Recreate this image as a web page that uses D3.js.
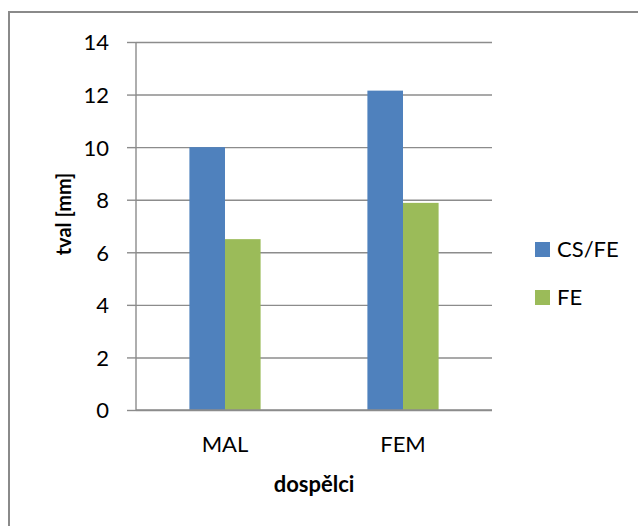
<!DOCTYPE html>
<html>
<head>
<meta charset="utf-8">
<script src="https://cdn.jsdelivr.net/npm/d3@7"></script>
<style>
  html, body { margin: 0; padding: 0; background: #fff; }
  svg { display: block; }
  text { font-family: Lato, "Open Sans", sans-serif; fill: #000; }
</style>
</head>
<body>
<svg id="chart" width="638" height="526"></svg>
<script>
const categories = ["MAL", "FEM"];
const seriesNames = ["CS/FE", "FE"];
const csfeValues = [10.0, 12.15];
const feValues = [6.5, 7.88];
const yTicks = [0, 2, 4, 6, 8, 10, 12, 14];
const colors = ["#4F81BD", "#9BBB59"];
const xTitle = "dospělci";
const yTitle = "tval [mm]";

(function () {
const seriesValues = [csfeValues, feValues];
const data = categories.map((c, i) => ({
  cat: c,
  vals: seriesNames.map((s, j) => ({ key: s, value: seriesValues[j][i] }))
}));

const svg = d3.select("#chart");

// outer border
svg.append("rect")
  .attr("x", 9).attr("y", 12).attr("width", 700).attr("height", 600)
  .attr("fill", "none").attr("stroke", "#8a8a8a").attr("stroke-width", 2);

const pL = 136, pR = 492, pT = 42, pB = 410;

const y = d3.scaleLinear().domain([0, 14]).range([pB, pT]);
const x0 = d3.scaleBand().domain(categories).range([pL, pR])
  .paddingInner(0.6).paddingOuter(0.3);
const x1 = d3.scaleBand().domain(seriesNames).range([0, x0.bandwidth()]);
const color = d3.scaleOrdinal().domain(seriesNames).range(colors);

// gridlines + y axis
const yAxis = d3.axisLeft(y).tickValues(yTicks).tickSize(-(pR - pL)).tickPadding(0).tickFormat(d3.format("d"));
const gy = svg.append("g").attr("transform", `translate(${pL},0)`).call(yAxis);
gy.select(".domain").remove();
gy.selectAll(".tick line").attr("stroke", "#8c8c8c").attr("stroke-width", 1.4);
gy.selectAll(".tick").append("line")
  .attr("x1", -9).attr("x2", 0).attr("stroke", "#8c8c8c").attr("stroke-width", 1.4);
gy.selectAll(".tick text").attr("x", -27).attr("dy", "0.36em")
  .style("font-size", "22px").style("font-family", "Lato, sans-serif").attr("fill", "#000");

// bars
const groups = svg.append("g").selectAll("g").data(data).join("g")
  .attr("transform", d => `translate(${x0(d.cat)},0)`);
groups.selectAll("rect").data(d => d.vals).join("rect")
  .attr("x", d => x1(d.key))
  .attr("width", x1.bandwidth())
  .attr("y", d => y(d.value))
  .attr("height", d => y(0) - y(d.value))
  .attr("fill", d => color(d.key));

// y axis line
svg.append("line").attr("x1", pL).attr("x2", pL).attr("y1", pT).attr("y2", pB)
  .attr("stroke", "#8c8c8c").attr("stroke-width", 1.4);
// x axis line
svg.append("line").attr("x1", pL).attr("x2", pR).attr("y1", pB).attr("y2", pB)
  .attr("stroke", "#8c8c8c").attr("stroke-width", 1.4);

// x labels
const xAxis = d3.axisBottom(x0).tickSize(0).tickPadding(0);
const gx = svg.append("g").attr("transform", `translate(0,${pB})`).call(xAxis);
gx.select(".domain").remove();
gx.selectAll(".tick text").attr("y", 42).attr("dy", 0)
  .style("font-size", "22px").style("font-family", "Lato, sans-serif").attr("fill", "#000");

// axis titles
svg.append("text").attr("x", (pL + pR) / 2).attr("y", 492)
  .attr("text-anchor", "middle").style("font-size", "22px").style("font-weight", "bold")
  .text(xTitle);
svg.append("text").attr("transform", "translate(71,214) rotate(-90)")
  .attr("text-anchor", "middle").style("font-size", "20px").style("font-weight", "bold")
  .text(yTitle);

// legend
const lg = svg.append("g").selectAll("g").data(seriesNames).join("g")
  .attr("transform", (d, i) => `translate(535,${242 + i * 48})`);
lg.append("rect").attr("width", 15).attr("height", 15).attr("fill", d => color(d));
lg.append("text").attr("x", 22).attr("y", 15).style("font-size", "22px").text(d => d);
})();
</script>
</body>
</html>
